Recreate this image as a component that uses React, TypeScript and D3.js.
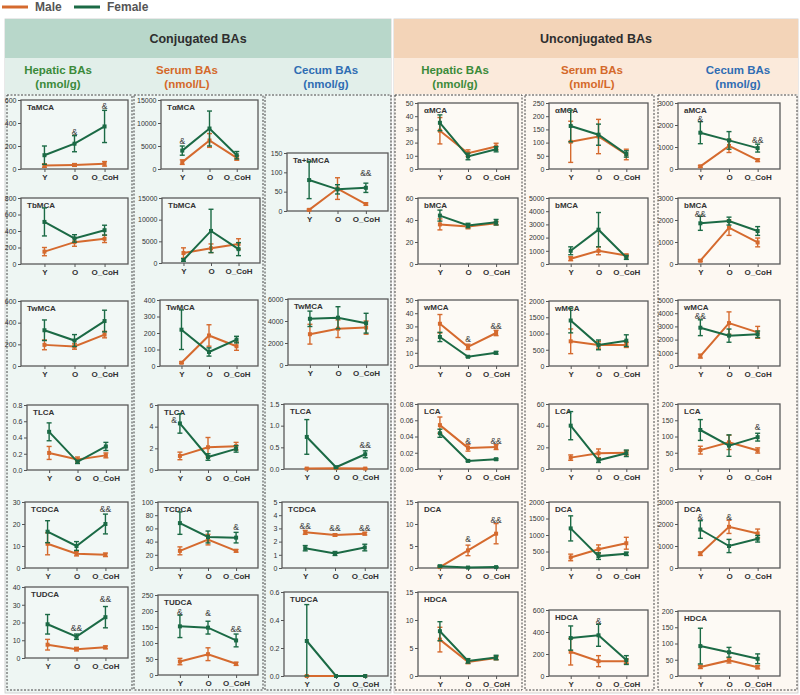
import React, { useEffect, useRef } from "react";
import * as d3 from "d3";

const groups = ["Y", "O", "O_CoH"];
const maleColor = "#d56a2e";
const femaleColor = "#1b6a45";

// Hepatic BAs, conjugated (nmol/g)
const hepConjNames = ["TaMCA", "TbMCA", "TwMCA", "TLCA", "TCDCA", "TUDCA"];
const hepConjMax = [600, 800, 600, 0.8, 30, 40];
const hepConjStep = [200, 200, 200, 0.2, 10, 10];
const hepConjMale = [[30, 35, 45], [150, 265, 305], [195, 180, 290], [0.21, 0.13, 0.18], [11, 6.5, 6], [7.5, 5, 6]];
const hepConjMaleErr = [[15, 12, 20], [50, 50, 45], [45, 25, 30], [0.08, 0.03, 0.03], [5, 1, 0.8], [3, 1, 0.8]];
const hepConjFemale = [[120, 220, 370], [510, 310, 410], [330, 235, 415], [0.47, 0.1, 0.29], [16.5, 10, 20], [19, 12, 23]];
const hepConjFemaleErr = [[80, 70, 140], [170, 45, 60], [95, 55, 100], [0.11, 0.02, 0.05], [5, 2, 4.5], [5.5, 1.5, 6]];
const hepConjMarks = [
  [["O", 325, "&"], ["O_CoH", 545, "&"]], [], [], [],
  [["O_CoH", 27, "&&"]],
  [["O", 17, "&&"], ["O_CoH", 33, "&&"]],
];

// Serum BAs, conjugated (nmol/L)
const serConjNames = ["TαMCA", "TbMCA", "TwMCA", "TLCA", "TCDCA", "TUDCA"];
const serConjMax = [15000, 15000, 400, 6, 100, 250];
const serConjStep = [5000, 5000, 100, 2, 20, 50];
const serConjMale = [[1500, 6200, 2400], [2300, 3400, 4400], [20, 185, 120], [1.3, 2.1, 2.2], [26, 43, 26], [42, 65, 35]];
const serConjMaleErr = [[500, 1500, 500], [1200, 1000, 1200], [5, 65, 25], [0.35, 0.9, 0.35], [6, 8, 2], [10, 20, 5]];
const serConjFemale = [[4000, 8800, 3000], [700, 7400, 3200], [220, 85, 160], [4.3, 1.2, 1.95], [68, 47, 46], [152, 148, 108]];
const serConjFemaleErr = [[1000, 3800, 800], [300, 5000, 1500], [120, 25, 20], [0.9, 0.3, 0.3], [17, 9, 8], [35, 20, 20]];
const serConjMarks = [
  [["Y", 6000, "&"]], [], [],
  [["Y", 4.6, "&", "left"]],
  [["O_CoH", 62, "&"]],
  [["Y", 197, "&"], ["O", 194, "&"], ["O_CoH", 145, "&&"]],
];

// Cecum BAs, conjugated (nmol/g)
const cecConjNames = ["Ta+bMCA", "TwMCA", "TLCA", "TCDCA", "TUDCA"];
const cecConjMax = [150, 6000, 1.5, 5, 0.6];
const cecConjStep = [50, 2000, 0.5, 1, 0.2];
const cecConjMale = [[3, 58, 18], [2800, 3300, 3400], [0.01, 0.02, 0.01], [2.7, 2.5, 2.6], [0, 0, 0]];
const cecConjMaleErr = [[2, 28, 3], [900, 800, 600], [0.005, 0.01, 0.005], [0.15, 0.1, 0.1], [0, 0, 0]];
const cecConjFemale = [[80, 56, 60], [4200, 4300, 3800], [0.74, 0.04, 0.34], [1.5, 1.1, 1.55], [0.25, 0, 0]];
const cecConjFemaleErr = [[48, 12, 12], [700, 1000, 900], [0.4, 0.02, 0.08], [0.2, 0.15, 0.25], [0.26, 0, 0]];
const cecConjMarks = [
  [["O_CoH", 97, "&&"]], [],
  [["O_CoH", 0.56, "&&"]],
  [["Y", 3.15, "&&"], ["O", 3.0, "&&"], ["O_CoH", 3.05, "&&"]],
  [],
];

// Hepatic BAs, unconjugated (nmol/g)
const hepUncNames = ["αMCA", "bMCA", "wMCA", "LCA", "DCA", "HDCA"];
const hepUncMax = [50, 60, 50, 0.08, 15, 15];
const hepUncStep = [10, 20, 10, 0.02, 5, 5];
const hepUncMale = [[29, 12, 17], [36, 34, 37], [32, 14.5, 25], [0.054, 0.026, 0.027], [0.2, 4, 7.8], [6.5, 2.5, 3.2]];
const hepUncMaleErr = [[10, 2.5, 2.5], [5, 2, 1.5], [7, 2, 2], [0.01, 0.004, 0.003], [0.1, 1.2, 2.3], [2.2, 0.3, 0.3]];
const hepUncFemale = [[35, 9.5, 15], [44, 35, 38], [22, 7, 10], [0.044, 0.01, 0.012], [0.4, 0.1, 0.2], [8, 2.7, 3.3]];
const hepUncFemaleErr = [[6, 2.5, 2], [5, 2, 2.5], [3.5, 0.5, 1], [0.005, 0.001, 0.001], [0.2, 0.05, 0.05], [1.7, 0.4, 0.4]];
const hepUncMarks = [
  [], [],
  [["O", 20.5, "&"], ["O_CoH", 30, "&&"]],
  [["O", 0.035, "&"], ["O_CoH", 0.034, "&&"]],
  [["O", 6.6, "&"], ["O_CoH", 11, "&&"]],
  [],
];

// Serum BAs, unconjugated (nmol/L)
const serUncNames = ["αMCA", "bMCA", "wMCA", "LCA", "DCA", "HDCA"];
const serUncMax = [250, 5000, 2000, 60, 2000, 600];
const serUncStep = [50, 1000, 500, 20, 500, 200];
const serUncMale = [[103, 123, 55], [400, 1000, 650], [760, 650, 650], [10.5, 14.5, 15], [320, 570, 750], [220, 135, 135]];
const serUncMaleErr = [[78, 65, 20], [150, 300, 100], [380, 100, 80], [2.5, 4, 2], [100, 130, 180], [120, 50, 20]];
const serUncFemale = [[163, 130, 57], [1000, 2600, 500], [1400, 650, 780], [40, 8, 14.5], [1200, 360, 430], [345, 370, 145]];
const serUncFemaleErr = [[60, 40, 12], [300, 1300, 150], [380, 150, 180], [13, 2, 3], [380, 100, 50], [110, 100, 40]];
const serUncMarks = [[], [], [], [], [], [["O", 500, "&"]]];

// Cecum BAs, unconjugated (nmol/g)
const cecUncNames = ["aMCA", "bMCA", "wMCA", "LCA", "DCA", "HDCA"];
const cecUncMax = [3000, 3000, 5000, 200, 3000, 200];
const cecUncStep = [1000, 1000, 1000, 50, 1000, 50];
const cecUncMale = [[120, 1050, 400], [150, 1650, 980], [750, 3250, 2550], [58, 82, 57], [650, 1870, 1570], [28, 48, 27]];
const cecUncMaleErr = [[40, 300, 60], [40, 350, 200], [150, 850, 450], [12, 22, 8], [80, 300, 200], [5, 8, 5]];
const cecUncFemale = [[1650, 1300, 950], [1850, 1950, 1500], [2900, 2300, 2400], [120, 72, 98], [1750, 1000, 1330], [92, 73, 53]];
const cecUncFemaleErr = [[500, 400, 180], [320, 180, 200], [600, 500, 250], [32, 33, 12], [400, 300, 150], [55, 15, 15]];
const cecUncMarks = [
  [["Y", 2270, "&"], ["O_CoH", 1330, "&&"]],
  [["Y", 2270, "&&"]],
  [["Y", 3800, "&&"]],
  [["O_CoH", 128, "&"]],
  [["Y", 2300, "&"], ["O", 2300, "&"]],
  [],
];

const subTitles = [
  { a: "Hepatic BAs", b: "(nmol/g)", color: "#3b8a3a", cx: 58 },
  { a: "Serum BAs", b: "(nmol/L)", color: "#d4692a", cx: 187 },
  { a: "Cecum BAs", b: "(nmol/g)", color: "#2f6db3", cx: 326 },
  { a: "Hepatic BAs", b: "(nmol/g)", color: "#3b8a3a", cx: 455 },
  { a: "Serum BAs", b: "(nmol/L)", color: "#d4692a", cx: 592 },
  { a: "Cecum BAs", b: "(nmol/g)", color: "#2f6db3", cx: 738 },
];

const font = "Arial, 'Liberation Sans', Helvetica, sans-serif";

const columns = [
  {
    names: hepConjNames, max: hepConjMax, step: hepConjStep, male: hepConjMale, maleErr: hepConjMaleErr,
    female: hepConjFemale, femaleErr: hepConjFemaleErr, marks: hepConjMarks, box: [7, 132],
    x: [[21, 128], [21, 128], [21, 128], [27, 128], [25, 128], [25, 128]],
    y: [[100, 169], [198, 264], [301, 366], [405, 470], [502, 568], [587, 658]],
  },
  {
    names: serConjNames, max: serConjMax, step: serConjStep, male: serConjMale, maleErr: serConjMaleErr,
    female: serConjFemale, femaleErr: serConjFemaleErr, marks: serConjMarks, box: [134, 263],
    x: [[161, 258], [162, 260], [160, 258], [158, 258], [158, 258], [158, 258]],
    y: [[100, 169], [198, 263], [300, 366], [405, 470], [502, 568], [595, 675]],
  },
  {
    names: cecConjNames, max: cecConjMax, step: cecConjStep, male: cecConjMale, maleErr: cecConjMaleErr,
    female: cecConjFemale, femaleErr: cecConjFemaleErr, marks: cecConjMarks, box: [265, 391],
    x: [[287, 388], [288, 388], [284, 388], [282, 388], [284, 388]],
    y: [[153, 211], [299, 365], [404, 469], [502, 568], [592, 676]],
  },
  {
    names: hepUncNames, max: hepUncMax, step: hepUncStep, male: hepUncMale, maleErr: hepUncMaleErr,
    female: hepUncFemale, femaleErr: hepUncFemaleErr, marks: hepUncMarks, box: [395, 522],
    x: [[418, 518], [418, 518], [418, 518], [418, 518], [418, 518], [418, 518]],
    y: [[103, 169], [198, 264], [300, 366], [404, 469], [502, 568], [592, 676]],
  },
  {
    names: serUncNames, max: serUncMax, step: serUncStep, male: serUncMale, maleErr: serUncMaleErr,
    female: serUncFemale, femaleErr: serUncFemaleErr, marks: serUncMarks, box: [525, 654],
    x: [[549, 648], [549, 648], [549, 648], [549, 648], [549, 648], [549, 648]],
    y: [[103, 169], [198, 264], [301, 366], [404, 469], [502, 568], [610, 676]],
  },
  {
    names: cecUncNames, max: cecUncMax, step: cecUncStep, male: cecUncMale, maleErr: cecUncMaleErr,
    female: cecUncFemale, femaleErr: cecUncFemaleErr, marks: cecUncMarks, box: [658, 797],
    x: [[678, 780], [678, 780], [678, 780], [678, 780], [678, 780], [678, 780]],
    y: [[103, 169], [198, 264], [300, 366], [404, 469], [502, 568], [611, 676]],
  },
];

function drawPanel(svg, col, i) {
  const [x0, x1] = col.x[i];
  const [y0, y1] = col.y[i];
  const max = col.max[i];
  const step = col.step[i];
  const g = svg.append("g");

  const x = d3.scalePoint().domain(groups).range([x0, x1]).padding(0.78);
  const y = d3.scaleLinear().domain([0, max]).range([y1, y0]);

  g.append("rect")
    .attr("x", x0).attr("y", y0)
    .attr("width", x1 - x0).attr("height", y1 - y0)
    .attr("fill", "rgba(255,255,255,0.25)")
    .attr("stroke", "#5a5a5a").attr("stroke-width", 1.3);

  const n = Math.round(max / step);
  const ticks = d3.range(0, n + 1).map(k => k * step);
  const dec = step < 0.1 ? 2 : step < 1 ? 1 : 0;
  const yAxis = d3.axisLeft(y).tickValues(ticks).tickSize(3).tickPadding(1.5)
    .tickFormat(d => d3.format(`.${dec}f`)(d));
  const ya = g.append("g").attr("transform", `translate(${x0},0)`).call(yAxis);
  ya.select(".domain").remove();
  ya.selectAll("line").attr("stroke", "#555");
  ya.selectAll("text").attr("font-size", 7).attr("fill", "#333").attr("font-family", font);

  const xAxis = d3.axisBottom(x).tickSize(3).tickPadding(2);
  const xa = g.append("g").attr("transform", `translate(0,${y1})`).call(xAxis);
  xa.select(".domain").remove();
  xa.selectAll("line").attr("stroke", "#555");
  xa.selectAll("text").attr("font-size", 8).attr("font-weight", "bold").attr("fill", "#333").attr("font-family", font);

  g.append("text")
    .attr("x", x0 + 6).attr("y", y0 + 9.5)
    .attr("font-size", 8).attr("font-weight", "bold").attr("fill", "#333")
    .attr("font-family", font)
    .text(col.names[i]);

  const series = [
    { mean: col.male[i], err: col.maleErr[i], color: maleColor },
    { mean: col.female[i], err: col.femaleErr[i], color: femaleColor },
  ];

  series.forEach(s => {
    const pts = groups.map((k, j) => ({ k, m: s.mean[j], e: s.err[j] }));
    const line = d3.line().x(d => x(d.k)).y(d => y(d.m));
    g.append("path").datum(pts)
      .attr("d", line).attr("fill", "none")
      .attr("stroke", s.color).attr("stroke-width", 2);

    const eb = g.append("g").attr("stroke", s.color).attr("stroke-width", 1.4);
    pts.forEach(d => {
      if (d.e <= 0) return;
      const top = y(Math.min(max * 1.02, d.m + d.e));
      const bot = y(Math.max(0, d.m - d.e));
      const cx = x(d.k);
      eb.append("line").attr("x1", cx).attr("x2", cx).attr("y1", top).attr("y2", bot);
      eb.append("line").attr("x1", cx - 2.5).attr("x2", cx + 2.5).attr("y1", top).attr("y2", top);
      eb.append("line").attr("x1", cx - 2.5).attr("x2", cx + 2.5).attr("y1", bot).attr("y2", bot);
    });

    g.append("g").selectAll("rect")
      .data(pts)
      .join("rect")
      .attr("x", d => x(d.k) - 2).attr("y", d => y(d.m) - 2)
      .attr("width", 4).attr("height", 4)
      .attr("fill", s.color);
  });

  col.marks[i].forEach(m => {
    const [k, v, label, side] = m;
    g.append("text")
      .attr("x", side === "left" ? x(k) - 3 : x(k))
      .attr("y", y(v) + 3)
      .attr("text-anchor", side === "left" ? "end" : "middle")
      .attr("font-size", 8.5).attr("fill", "#3a3a3a")
      .attr("font-family", font)
      .text(label);
  });
}

const App = () => {
  const ref = useRef(null);

  useEffect(() => {
    const svg = d3.select(ref.current);
    svg.selectAll("*").remove();

    svg.append("rect").attr("width", 800).attr("height", 695).attr("fill", "#ffffff");

    // legend
    const legend = [
      { label: "Male", color: maleColor, x: 2 },
      { label: "Female", color: femaleColor, x: 74 },
    ];
    legend.forEach(l => {
      svg.append("line")
        .attr("x1", l.x).attr("x2", l.x + 26).attr("y1", 7).attr("y2", 7)
        .attr("stroke", l.color).attr("stroke-width", 3);
      svg.append("text")
        .attr("x", l.x + 33).attr("y", 11)
        .attr("font-size", 12).attr("font-weight", "bold").attr("fill", "#555")
        .attr("font-family", font)
        .text(l.label);
    });

    // section backgrounds
    const sections = [
      { x: 5, w: 386, head: "#b8d7ca", sub: "#e2efea", body: "#eef6f3", title: "Conjugated BAs" },
      { x: 394, w: 404, head: "#f3d4b8", sub: "#fbeadb", body: "#fdf8f2", title: "Unconjugated BAs" },
    ];
    sections.forEach(s => {
      svg.append("rect").attr("x", s.x).attr("y", 19).attr("width", s.w).attr("height", 674)
        .attr("fill", s.body).attr("stroke", "#c8c8c8").attr("stroke-width", 0.8);
      svg.append("rect").attr("x", s.x).attr("y", 19).attr("width", s.w).attr("height", 39)
        .attr("fill", s.head);
      svg.append("rect").attr("x", s.x).attr("y", 58).attr("width", s.w).attr("height", 36)
        .attr("fill", s.sub);
      svg.append("text")
        .attr("x", s.x + s.w / 2).attr("y", 43)
        .attr("text-anchor", "middle")
        .attr("font-size", 12.5).attr("font-weight", "bold").attr("fill", "#2e2e2e")
        .attr("font-family", font)
        .text(s.title);
    });

    subTitles.forEach(t => {
      const tx = svg.append("text")
        .attr("text-anchor", "middle")
        .attr("font-size", 11.5).attr("font-weight", "bold").attr("fill", t.color)
        .attr("font-family", font);
      tx.append("tspan").attr("x", t.cx).attr("y", 74).text(t.a);
      tx.append("tspan").attr("x", t.cx).attr("y", 88).text(t.b);
    });

    columns.forEach(col => {
      svg.append("rect")
        .attr("x", col.box[0]).attr("y", 95)
        .attr("width", col.box[1] - col.box[0]).attr("height", 595)
        .attr("fill", "none").attr("stroke", "#444")
        .attr("stroke-width", 1).attr("stroke-dasharray", "2,1.5");
      col.names.forEach((_, i) => drawPanel(svg, col, i));
    });
  }, []);

  return (
    <svg
      ref={ref}
      width={800}
      height={695}
      style={{ position: "absolute", left: 0, top: 0, display: "block" }}
    />
  );
};

export default App;
